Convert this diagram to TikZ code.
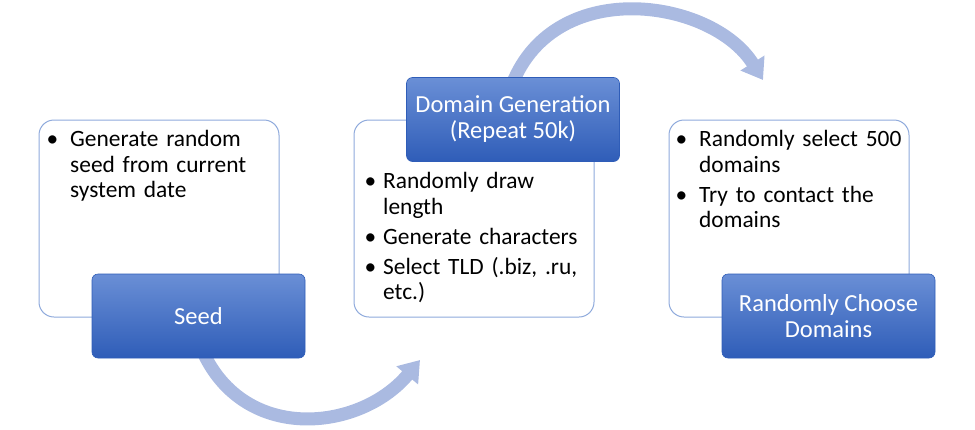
\documentclass[tikz,border=0pt]{standalone}
\usepackage{fontspec}
\setmainfont{Carlito}
\usetikzlibrary{arrows.meta}

\definecolor{panelline}{RGB}{143,170,220}
\definecolor{flowblue}{RGB}{170,186,225}
\definecolor{steptop}{RGB}{106,143,214}
\definecolor{stepbottom}{RGB}{47,93,184}

% tight bullet lists inside the panels
\makeatletter
\def\@listi{\leftmargin\leftmargini \topsep\z@ \partopsep\z@ \parsep\z@ \itemsep 4.5pt}
\let\@listI\@listi
\makeatother

\tikzset{
  panel/.style={draw=panelline, line width=1pt, fill=white, rounded corners=15pt,
    minimum width=240pt, minimum height=197pt},
  stepbox/.style={top color=steptop, bottom color=stepbottom, draw=stepbottom,
    line width=0.6pt, rounded corners=6pt, minimum width=213pt, minimum height=84pt,
    text=white, align=center, font=\fontsize{24.5}{26}\selectfont},
  notes/.style={anchor=north west, inner sep=0pt, text width=235pt,
    font=\fontsize{23.4}{25.5}\selectfont},
  flow/.style={draw=flowblue, line width=13pt,
    -{Triangle[width=27pt,length=20pt]}}
}

\begin{document}
\begin{tikzpicture}[x=1pt,y=-1pt]
    \useasboundingbox (0,0) rectangle (975,429);

    % Rámečky s popisem
    \node[panel] (seedpanel) at (159,218.5) {};
    \node[panel] (genpanel) at (474,218.5) {};
    \node[panel] (pickpanel) at (789,218.5) {};

    % Odrážky
    \node[notes] (seednotes) at (44,121) {\setlength{\leftmargini}{26pt}\setlength{\labelsep}{12pt}%
      \begin{itemize}
        \item Generate random\newline seed from current\newline system date
      \end{itemize}};
    \node[notes] (gennotes) at (370,163) {\setlength{\leftmargini}{13pt}\setlength{\labelsep}{7pt}%
      \begin{itemize}
        \item Randomly draw\newline length
        \item Generate characters
        \item Select TLD (.biz, .ru,\newline etc.)
      \end{itemize}};
    \node[notes] (picknotes) at (673,121) {\setlength{\leftmargini}{26pt}\setlength{\labelsep}{12pt}%
      \begin{itemize}
        \item Randomly select 500\newline domains
        \item Try to contact the\newline domains
      \end{itemize}};

    % Šipky mezi kroky
    \coordinate (seedout) at (200,345);
    \coordinate (genin) at (420,360);
    \coordinate (genout) at (510,90);
    \coordinate (pickin) at (763,80);
    \draw[flow] (seedout) .. controls (240,445) and (360,432) .. (genin);
    \draw[flow] (genout) .. controls (550,-26) and (712,-2) .. (pickin);

    % Kroky
    \node[stepbox] (seed) at (198.5,316) {Seed};
    \node[stepbox] (gen) at (513,119.5) {Domain Generation\\(Repeat 50k)};
    \node[stepbox] (pick) at (828.5,316) {Randomly Choose\\Domains};
\end{tikzpicture}
\end{document}
